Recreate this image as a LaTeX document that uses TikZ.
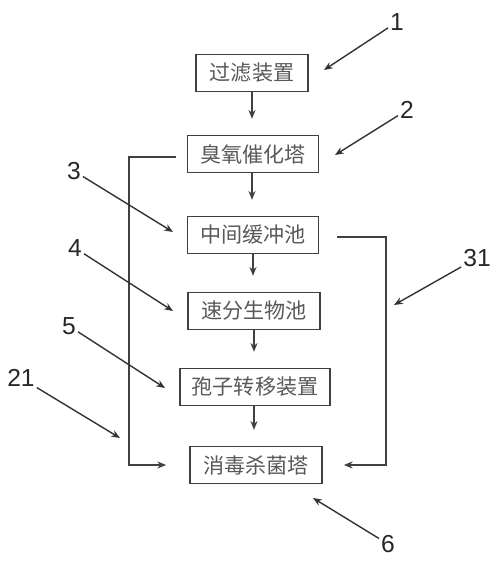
\documentclass[tikz,border=0pt]{standalone}
\usepackage{fontspec}
\setmainfont{Liberation Sans}
\newfontfamily\cjk{Noto Sans CJK SC}
\usetikzlibrary{arrows.meta}

\tikzset{
    unit/.style={draw=black!75, line width=1pt, fill=white, minimum height=0.74cm, inner sep=2pt, text=black!65, font=\cjk\fontsize{12pt}{14pt}\selectfont},
    flow/.style={-{Stealth[length=5pt, width=4pt]}, draw=black!75, line width=0.9pt},
    num/.style={inner sep=1pt, font=\fontsize{14pt}{16pt}\selectfont, text=black!85},
    pointer/.style={-{Stealth[length=5pt, width=4pt]}, draw=black!80, line width=0.8pt}
}

\begin{document}
\begin{tikzpicture}[x=0.02cm, y=-0.02cm]
    \useasboundingbox (0,0) rectangle (500,568);

    % --- Nodes ---

    % 1. Filter (Top)
    \node[unit, minimum width=2.24cm] (filter) at (252, 73) {过滤装置};

    % 2. Ozone catalytic tower
    \node[unit, minimum width=2.62cm] (ozone) at (253, 154) {臭氧催化塔};

    % 3. Buffer tank
    \node[unit, minimum width=2.62cm] (buffer) at (253, 235) {中间缓冲池};

    % 4. Fast biological tank
    \node[unit, minimum width=2.64cm] (bio) at (254, 311) {速分生物池};

    % 5. Spore transfer device
    \node[unit, minimum width=3.0cm] (spore) at (255, 387) {孢子转移装置};

    % 6. Disinfection tower (Bottom)
    \node[unit, minimum width=2.64cm] (disinfect) at (256, 465) {消毒杀菌塔};

    % --- Arrows ---

    % Main line (Down)
    \draw[flow, shorten >=9pt] (filter.south -| 252,0) -- (ozone.north -| 252,0);
    \draw[flow, shorten >=9pt] (ozone.south -| 252,0) -- (buffer.north -| 252,0);
    \draw[flow, shorten >=9pt] (buffer.south -| 253,0) -- (bio.north -| 253,0);
    \draw[flow, shorten >=9pt] (bio.south -| 254,0) -- (spore.north -| 254,0);
    \draw[flow, shorten >=9pt] (spore.south -| 254,0) -- (disinfect.north -| 254,0);

    % Bypass 21 (Left) and bypass 31 (Right)
    \draw[flow] ([xshift=-0.22cm, yshift=-0.06cm]ozone.west) -| (129, 400) |- ([xshift=-0.46cm]disinfect.west);
    \draw[flow] ([xshift=0.36cm, yshift=-0.04cm]buffer.east) -| (386, 400) |- ([xshift=0.42cm]disinfect.east);

    % --- Reference numbers ---
    \node[num] (n1) at (397, 22) {1};
    \node[num] (n2) at (407, 110) {2};
    \node[num] (n3) at (74, 171) {3};
    \node[num] (n4) at (75, 248) {4};
    \node[num] (n5) at (69, 326) {5};
    \node[num] (n21) at (21, 378) {21};
    \node[num] (n31) at (477, 258) {31};
    \node[num] (n6) at (388, 544) {6};

    \coordinate (p1) at (324, 70);
    \coordinate (p2) at (335, 155);
    \coordinate (p3) at (173, 232);
    \coordinate (p4) at (173, 311);
    \coordinate (p5) at (165, 388);
    \coordinate (p21) at (120, 438);
    \coordinate (p31) at (394, 305);
    \coordinate (p6) at (313, 498);

    \foreach \n in {1, 2, 3, 4, 5, 21, 31, 6}
        \draw[pointer] (n\n) -- (p\n);

\end{tikzpicture}
\end{document}
